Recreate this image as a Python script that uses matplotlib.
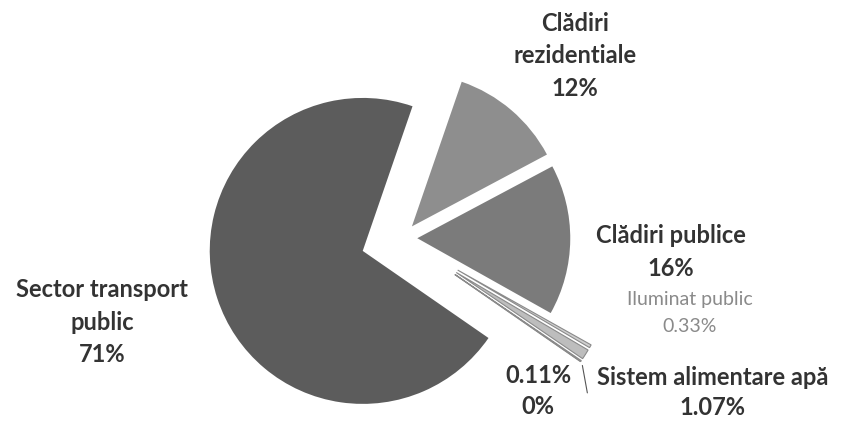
import matplotlib
matplotlib.use('Agg')
import matplotlib.pyplot as plt

#%% data
labels = ['Clădiri\nrezidentiale', 'Clădiri publice', 'Iluminat public',
          'Sistem alimentare apă', '0.11%', '', 'Sector transport\npublic']
pct_text = ['12%', '16%', '0.33%', '1.07%', '0%', '', '71%']
values = [12, 16, 0.33, 1.07, 0.11, 0.0, 71]

colors = ['#8e8e8e', '#7b7b7b', '#cfcfcf', '#bdbdbd', '#a8a8a8', '#a8a8a8', '#5c5c5c']
explode = [0.1, 0.1, 0.42, 0.42, 0.42, 0.42, 0.27]

#%% figure
fig = plt.figure(figsize=(8.48, 4.23), dpi=100)
ax = fig.add_axes([0, 0, 1, 1])
wedges, _ = ax.pie(values, colors=colors, explode=explode, startangle=71,
                   counterclock=False, radius=1.0,
                   wedgeprops=dict(linewidth=0))
for w in wedges[2:6]:
    w.set_edgecolor('#8a8a8a')
    w.set_linewidth(0.8)

ax.set_xlim(-2.627, 2.915)
ax.set_ylim(-1.209, 1.556)
ax.set_aspect('equal')
ax.axis('off')

font = 'Lato'
dark = '#333333'
fs = 17
ls = 1.5
ax.text(1.13, 1.19, labels[0] + '\n' + pct_text[0], ha='center', va='center',
        fontsize=fs, fontweight='bold', color=dark, family=font, linespacing=ls)
ax.text(1.76, -0.09, labels[1] + '\n' + pct_text[1], ha='center', va='center',
        fontsize=fs, fontweight='bold', color=dark, family=font, linespacing=ls)
ax.text(1.88, -0.49, labels[2] + '\n' + pct_text[2], ha='center', va='center',
        fontsize=14, color='#8a8a8a', family=font, linespacing=1.75)
ax.text(2.03, -1.01, labels[3] + '\n' + pct_text[3], ha='center', va='center',
        fontsize=fs, fontweight='bold', color=dark, family=font, linespacing=1.4)
ax.text(0.89, -1.0, labels[4] + '\n' + pct_text[4], ha='center', va='center',
        fontsize=fs, fontweight='bold', color=dark, family=font, linespacing=1.4)
ax.text(-1.96, -0.55, labels[6] + '\n' + pct_text[6], ha='center', va='center',
        fontsize=fs, fontweight='bold', color=dark, family=font, linespacing=ls)

# leader line from the small slices
ax.annotate('', xy=(1.176, -0.815), xytext=(1.215, -1.03),
            arrowprops=dict(arrowstyle='-', color='#555555', lw=0.8))

fig.savefig('out.png', dpi=100)
